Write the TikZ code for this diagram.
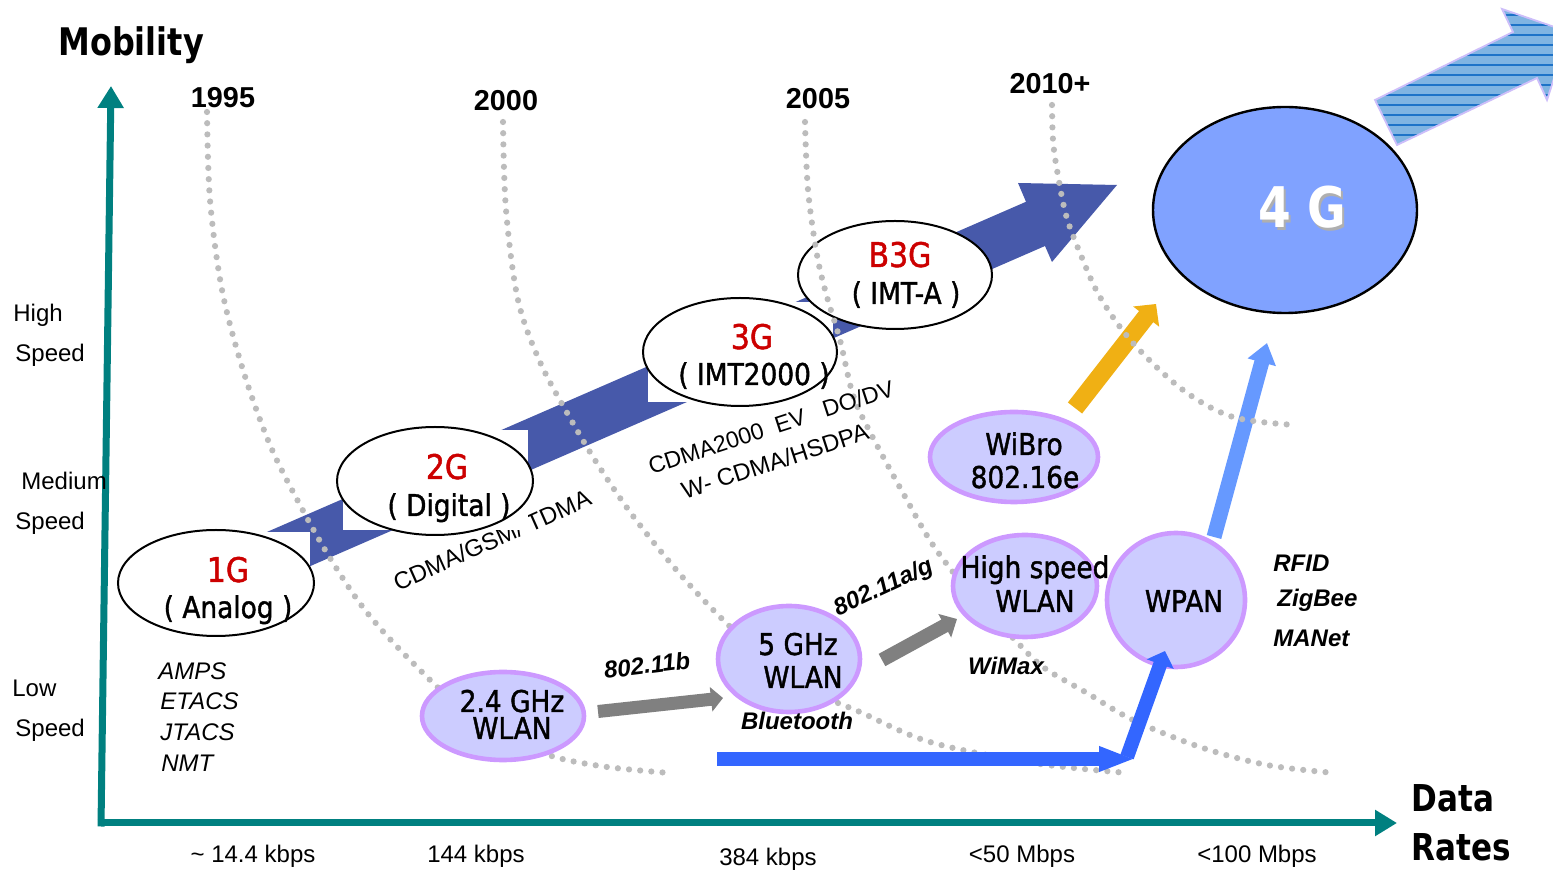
\documentclass[tikz,border=0pt]{standalone}
\usepackage{fontspec}
\setmainfont{Liberation Sans}
\newfontfamily\tahfont[FakeStretch=0.88,FakeBold=1.3]{DejaVu Sans}
\newfontfamily\tahbfont[FakeStretch=0.84]{DejaVu Sans}
\usetikzlibrary{shapes.geometric,arrows.meta}
\definecolor{tealc}{RGB}{0,128,128}
\definecolor{bandblue}{RGB}{71,89,170}
\definecolor{genred}{RGB}{204,0,0}
\definecolor{lavfill}{RGB}{204,204,255}
\definecolor{lavedge}{RGB}{204,153,255}
\definecolor{fourg}{RGB}{128,162,255}
\definecolor{dotgray}{RGB}{188,188,188}
\definecolor{yel}{RGB}{240,176,20}
\definecolor{lblue}{RGB}{102,153,255}
\definecolor{dblue}{RGB}{51,102,255}
\definecolor{grayarr}{RGB}{128,128,128}
\definecolor{hatchfill}{RGB}{128,180,226}
\definecolor{hatchline}{RGB}{30,115,200}
\definecolor{hatchedge}{RGB}{205,190,250}
\definecolor{shadowgray}{RGB}{175,175,175}
\begin{document}
\begin{tikzpicture}[x=0.5pt,y=-0.5pt,
  axisline/.style={draw=tealc, line width=3.5pt, -{Triangle[length=11pt,width=12.5pt]}},
  genell/.style={ellipse, draw=black, line width=1pt, fill=white, inner sep=0pt},
  purpell/.style={ellipse, draw=lavedge, line width=2.3pt, fill=lavfill, inner sep=0pt},
  redtext/.style={font=\tahfont\fontsize{17}{20}\selectfont, text=genred, inner sep=0pt, anchor=base},
  elltext/.style={font=\tahfont\fontsize{15}{18}\selectfont, inner sep=0pt, anchor=base},
  bigtext/.style={font=\tahbfont\bfseries\fontsize{19}{22}\selectfont, inner sep=0pt, anchor=base west},
  lbl/.style={font=\fontsize{12}{14}\selectfont, inner sep=0pt},
  ital/.style={font=\itshape\fontsize{12}{14}\selectfont, inner sep=0pt, anchor=base west},
  bital/.style={font=\bfseries\itshape\fontsize{12}{14}\selectfont, inner sep=0pt},
  yearlbl/.style={font=\bfseries\fontsize{14.4}{16}\selectfont, inner sep=0pt},
  dotcurve/.style={draw=dotgray, line width=3.1pt, line cap=round, dash pattern=on 0pt off 5.6pt},
  fatarrow/.style={line cap=butt}
]
\useasboundingbox (0,0) rectangle (1553,870);
\fill[white] (0,0) rectangle (1553,870);

% ---- big generation band arrow
\fill[bandblue] (240,543.7) -- (1026,201.8) -- (1018,183) -- (1117,185) -- (1052,262) -- (1045,246) -- (240,596.7) -- cycle;

% label partly hidden by the 2G box
\node[lbl, rotate=24] (cdma2g) at (492,540) {CDMA/GSM/ TDMA};

% white boxes behind the generation ellipses
\fill[white] (118,532) rectangle (310,637);
\fill[white] (343,430) rectangle (528,530);
\fill[white] (648,302) rectangle (833,402);

% ---- hatched arrow (top right)
\begin{scope}
  \clip (0,0) rectangle (1553,870);
  \fill[hatchfill] (1397,145) -- (1375,100) -- (1513,32) -- (1502,9) -- (1569,32) -- (1547,100) -- (1537,78) -- cycle;
  \begin{scope}
    \clip (1397,145) -- (1375,100) -- (1513,32) -- (1502,9) -- (1569,32) -- (1547,100) -- (1537,78) -- cycle;
    \foreach \yy in {5,15,...,155} \draw[hatchline, line width=0.6pt] (1360,\yy) -- (1580,\yy);
  \end{scope}
  \draw[hatchedge, line width=0.9pt] (1397,145) -- (1375,100) -- (1513,32) -- (1502,9) -- (1569,32) -- (1547,100) -- (1537,78) -- cycle;
\end{scope}

% ---- axes
\coordinate (Ybase) at (101,826.5);
\coordinate (Ytip) at (111,86);
\coordinate (Xbase) at (97.5,823);
\coordinate (Xtip) at (1397,823);
\draw[axisline] (Ybase) -- (Ytip);
\draw[axisline] (Xbase) -- (Xtip);

% ---- generation ellipses
\node[genell, minimum width=98pt, minimum height=53pt] (e1) at (216,583) {};
\node[genell, minimum width=98pt, minimum height=54pt] (e2) at (435,481) {};
\node[genell, minimum width=97pt, minimum height=54pt] (e3) at (740,352) {};
\node[genell, minimum width=97pt, minimum height=54pt] (eb3) at (895,275) {};
\node[ellipse, draw=black, line width=1.2pt, fill=fourg, inner sep=0pt, minimum width=132pt, minimum height=103pt] (e4) at (1285,210) {};

% ---- arrows to 4G
\coordinate (yS) at (1075,408);
\coordinate (yE) at (1156,304);
\draw[fatarrow, yel, line width=9pt, -{Triangle[length=8pt,width=16pt]}] (yS) -- (yE);
\coordinate (lS) at (1214,537);
\coordinate (lE) at (1267,343);
\draw[fatarrow, lblue, line width=7.5pt, -{Triangle[length=10pt,width=14pt]}] (lS) -- (lE);

% ---- dotted year curves
\draw[dotcurve] plot[smooth, tension=0.55] coordinates {(207,112) (210,200) (222,290) (243,370) (270,445) (300,505) (330,558) (365,610) (410,660) (470,715) (540,752) (600,766) (670,773)};
\draw[dotcurve] plot[smooth, tension=0.55] coordinates {(503,122) (506,210) (518,300) (540,362) (570,418) (600,468) (636,520) (686,581) (740,636) (800,685) (860,712) (930,742) (1033,763) (1128,773)};
\draw[dotcurve] plot[smooth, tension=0.55] coordinates {(805,122) (808,190) (817,255) (827,297) (840,340) (853,395) (870,432) (903,493) (935,548) (980,605) (1013,638) (1043,667) (1087,693) (1133,720) (1200,747) (1267,765) (1335,773)};
\draw[dotcurve] plot[smooth, tension=0.55] coordinates {(1052,105) (1053,140) (1057,170) (1066,215) (1080,253) (1100,297) (1133,343) (1183,390) (1233,417) (1295,425)};

% ---- WLAN / WPAN arrows
\coordinate (bS) at (717,759);
\coordinate (bM) at (1135,759);
\draw[fatarrow, dblue, line width=7pt, -{Triangle[length=18pt,width=11.5pt]}] (bS) -- (bM);
\coordinate (gaS) at (598,711.5);
\coordinate (gaE) at (723,698);
\draw[fatarrow, grayarr, line width=6.5pt, -{Triangle[length=6pt,width=12pt]}] (gaS) -- (gaE);
\coordinate (gbS) at (882,660);
\coordinate (gbE) at (957,619);
\draw[fatarrow, grayarr, line width=7pt, -{Triangle[length=7pt,width=13pt]}] (gbS) -- (gbE);

% ---- purple ellipses
\node[purpell, minimum width=81pt, minimum height=44pt] (p24) at (503,716) {};
\node[purpell, minimum width=71pt, minimum height=53pt] (p5) at (789,659) {};
\node[purpell, minimum width=84pt, minimum height=45pt] (pwb) at (1014,457) {};
\node[purpell, minimum width=72pt, minimum height=51pt] (phs) at (1025,586) {};
\node[purpell, minimum width=69pt, minimum height=67pt] (pwp) at (1176,600) {};

\coordinate (dS) at (1127,757);
\coordinate (dE) at (1165,651);
\draw[fatarrow, dblue, line width=7pt, -{Triangle[length=7pt,width=14pt]}] (dS) -- (dE);

% ---- ellipse texts
\node[redtext] (t1g) at (228,582) {1G};
\node[elltext] (t1ga) at (228,618) {( Analog )};
\node[redtext] (t2g) at (447,479) {2G};
\node[elltext] (t2gd) at (449,516) {( Digital )};
\node[redtext] (t3g) at (752,349) {3G};
\node[elltext] (t3gi) at (754,385) {( IMT2000 )};
\node[redtext] (tb3g) at (900,267) {B3G};
\node[elltext] (tb3gi) at (906,304) {( IMT-A )};
\node[font=\tahbfont\bfseries\fontsize{28}{30}\selectfont, text=shadowgray, inner sep=0pt, anchor=base] (t4gs) at (1304.5,230.5) {4 G};
\node[font=\tahbfont\bfseries\fontsize{28}{30}\selectfont, text=white, inner sep=0pt, anchor=base] (t4g) at (1302,228) {4 G};

\node[elltext] (t24a) at (512,712) {2.4 GHz};
\node[elltext] (t24b) at (512,739) {WLAN};
\node[elltext] (t5a) at (798,655) {5 GHz};
\node[elltext] (t5b) at (803,688) {WLAN};
\node[elltext] (twb1) at (1024,455) {WiBro};
\node[elltext] (twb2) at (1025,488) {802.16e};
\node[elltext] (ths1) at (1035,578) {High speed};
\node[elltext] (ths2) at (1035,612) {WLAN};
\node[elltext] (twp) at (1184,612) {WPAN};

% ---- axis titles
\node[bigtext] (mob) at (58,56) {Mobility};
\node[bigtext, font=\tahbfont\bfseries\fontsize{18.5}{22}\selectfont] (dat) at (1411,812) {Data};
\node[bigtext, font=\tahbfont\bfseries\fontsize{18.5}{22}\selectfont] (rat) at (1411,861) {Rates};

% ---- years
\node[yearlbl] (y95) at (223,98) {1995};
\node[yearlbl] (y00) at (506,101) {2000};
\node[yearlbl] (y05) at (818,99) {2005};
\node[yearlbl] (y10) at (1050,84) {2010+};

% ---- mobility levels
\node[lbl, anchor=base west] (hi1) at (13,322) {High};
\node[lbl, anchor=base west] (hi2) at (15,362) {Speed};
\node[lbl, anchor=base west] (me1) at (21,490) {Medium};
\node[lbl, anchor=base west] (me2) at (15,530) {Speed};
\node[lbl, anchor=base west] (lo1) at (12,697) {Low};
\node[lbl, anchor=base west] (lo2) at (15,737) {Speed};

% ---- data rates
\node[lbl, anchor=base] (r1) at (253,863) {\textasciitilde{} 14.4 kbps};
\node[lbl, anchor=base] (r2) at (476,863) {144 kbps};
\node[lbl, anchor=base] (r3) at (768,865) {384 kbps};
\node[lbl, anchor=base] (r4) at (1022,863) {\textless 50 Mbps};
\node[lbl, anchor=base] (r5) at (1257,863) {\textless 100 Mbps};

% ---- 1G systems
\node[ital] (amps) at (158,680) {AMPS};
\node[ital] (etacs) at (160,710) {ETACS};
\node[ital] (jtacs) at (160,741) {JTACS};
\node[ital] (nmt) at (161,772) {NMT};

% ---- standards
\node[lbl, rotate=18, font=\fontsize{11.6}{14}\selectfont] (cdma3g) at (771,427) {CDMA2000\ \ EV\ \ \ DO/DV};
\node[lbl, rotate=18] (wcdma) at (775,461) {W- CDMA/HSDPA};
\node[bital, rotate=7] (w11b) at (647,665) {802.11b};
\node[bital, anchor=base] (bt) at (797,730) {Bluetooth};
\node[bital, rotate=25] (w11ag) at (884,588) {802.11a/g};
\node[bital, anchor=base] (wimax) at (1006,675) {WiMax};
\node[bital, anchor=base west] (rfid) at (1273,572) {RFID};
\node[bital, anchor=base west] (zig) at (1277,607) {ZigBee};
\node[bital, anchor=base west] (manet) at (1273,647) {MANet};
\end{tikzpicture}
\end{document}
